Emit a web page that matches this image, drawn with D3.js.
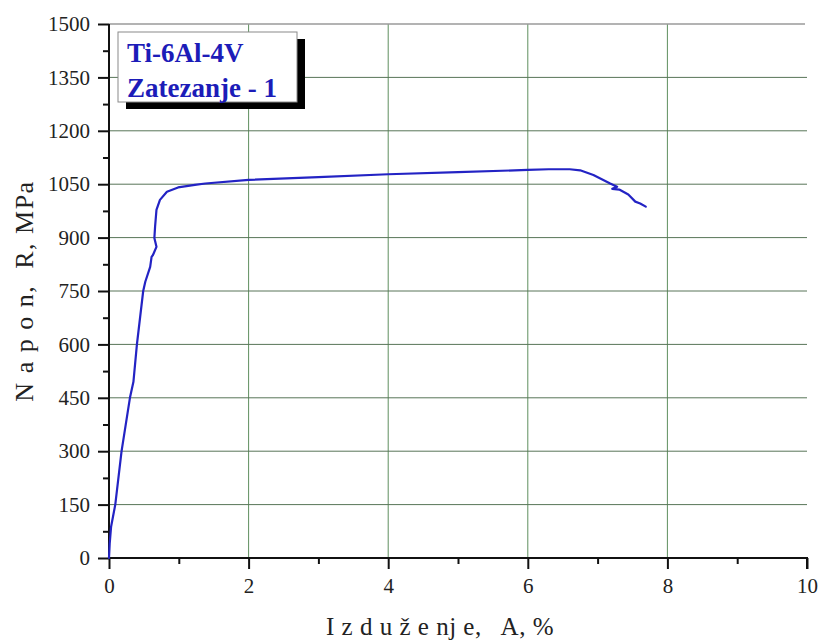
<!DOCTYPE html>
<html>
<head>
<meta charset="utf-8">
<script src="https://cdn.jsdelivr.net/npm/d3@7"></script>
<style>
  html, body { margin: 0; padding: 0; background: #fff; }
  svg { display: block; }
</style>
</head>
<body>
<div id="chart"></div>
<script>
// ---- data ----
const strain = [0, 0.01, 0.03, 0.09, 0.18, 0.30, 0.35, 0.40, 0.49, 0.52, 0.59, 0.61, 0.63, 0.68, 0.65, 0.66, 0.68, 0.73, 0.83, 0.99, 1.23, 1.38, 2, 3, 4, 5, 6, 6.3, 6.6, 6.75, 6.94, 7.18, 7.28, 7.21, 7.31, 7.44, 7.54, 7.61, 7.69];
const stress = [0, 40, 88, 150, 300, 450, 495, 600, 750, 776, 818, 846, 851, 874, 899, 930, 978, 1006, 1029, 1041, 1048, 1052, 1062, 1070, 1078, 1084, 1090, 1092, 1092, 1089, 1076, 1052, 1043, 1037, 1035, 1021, 1001, 996, 987];
const xTicks = [0, 2, 4, 6, 8, 10];
const yTicks = [0, 150, 300, 450, 600, 750, 900, 1050, 1200, 1350, 1500];
const legendLines = ["Ti-6Al-4V", "Zatezanje - 1"];
const xTitle = "I z d u ž e nj e,   A, %";
const yTitle = "N a p o n,  R, MPa";

const SERIF = "'Liberation Serif', 'Times New Roman', Times, 'DejaVu Serif', serif";

// ---- layout ----
const W = 820, H = 644;
const m = { left: 109, top: 24, right: 13, bottom: 86 };
const iw = W - m.left - m.right, ih = H - m.top - m.bottom;

const svg = d3.select("#chart").append("svg").attr("width", W).attr("height", H);
const g = svg.append("g").attr("transform", `translate(${m.left},${m.top})`);

const x = d3.scaleLinear().domain([0, 10]).range([0, iw]);
const y = d3.scaleLinear().domain([0, 1500]).range([ih, 0]);

// grid
g.append("g").selectAll("line").data(xTicks.filter(d => d > 0 && d < 10)).join("line")
  .attr("x1", d => x(d)).attr("x2", d => x(d)).attr("y1", 0).attr("y2", ih)
  .attr("stroke", "#5f8f5f").attr("stroke-width", 1);
g.append("g").selectAll("line").data(yTicks.filter(d => d > 0 && d < 1500)).join("line")
  .attr("x1", 0).attr("x2", iw).attr("y1", d => y(d)).attr("y2", d => y(d))
  .attr("stroke", "#587558").attr("stroke-width", 1);
// top line
g.append("line").attr("x1", 0).attr("x2", x(10) - 2).attr("y1", y(1500)).attr("y2", y(1500))
  .attr("stroke", "#9a9a9a").attr("stroke-width", 1.5);

// axes
const xAxis = d3.axisBottom(x).tickValues(xTicks).tickSize(11).tickPadding(9).tickFormat(d3.format("d"));
const xMinor = d3.axisBottom(x).tickValues([1, 3, 5, 7, 9]).tickSize(6).tickFormat("");
const yAxis = d3.axisLeft(y).tickValues(yTicks).tickSize(11).tickPadding(8).tickFormat(d3.format("d"));
const yMinor = d3.axisLeft(y).tickValues(d3.range(75, 1500, 150)).tickSize(6).tickFormat("");

function styleAxis(sel) {
  sel.attr("font-family", null);
  sel.select(".domain").attr("stroke", "#111").attr("stroke-width", 2);
  sel.selectAll(".tick line").attr("stroke", "#111").attr("stroke-width", 2);
  sel.selectAll(".tick text").style("font-family", SERIF).style("font-size", "21px").attr("fill", "#222");
}
g.append("g").attr("transform", `translate(0,${ih})`).call(xMinor).call(styleAxis).select(".domain").remove();
g.append("g").call(yMinor).call(styleAxis).select(".domain").remove();
g.append("g").attr("transform", `translate(0,${ih})`).call(xAxis).call(styleAxis)
  .select(".domain").attr("d", `M0,0H${iw}V11`);
g.append("g").call(yAxis).call(styleAxis)
  .select(".domain").attr("d", `M0,${ih}V0`);

// curve
const line = d3.line().x((d, i) => x(strain[i])).y((d, i) => y(stress[i]));
g.append("path").datum(stress).attr("d", line)
  .attr("fill", "none").attr("stroke", "#2323c4").attr("stroke-width", 2.2)
  .attr("stroke-linejoin", "round").attr("stroke-linecap", "round");

// legend box with shadow
const lb = { x: 118, y: 32, w: 179, h: 70 };
svg.append("rect").attr("x", lb.x + 8).attr("y", lb.y + 7).attr("width", lb.w).attr("height", lb.h).attr("fill", "#000");
svg.append("rect").attr("x", lb.x).attr("y", lb.y).attr("width", lb.w).attr("height", lb.h)
  .attr("fill", "#fff").attr("stroke", "#8a8a8a").attr("stroke-width", 1);
svg.append("g").selectAll("text").data(legendLines).join("text")
  .attr("x", 127).attr("y", (d, i) => 62 + i * 35)
  .style("font-family", SERIF).style("font-size", "27px").style("font-weight", "bold").attr("fill", "#1c1cb8")
  .text(d => d);

// axis titles
svg.append("text").attr("x", 440).attr("y", 635).attr("text-anchor", "middle")
  .style("font-family", SERIF).style("font-size", "25px").attr("fill", "#222")
  .style("white-space", "pre").style("letter-spacing", "0.5px").text(xTitle);
svg.append("text").attr("transform", `translate(33,${m.top + ih / 2}) rotate(-90)`)
  .attr("text-anchor", "middle").style("font-family", SERIF).style("font-size", "26px").attr("fill", "#222")
  .style("white-space", "pre").style("letter-spacing", "1.5px").text(yTitle);
</script>
</body>
</html>
